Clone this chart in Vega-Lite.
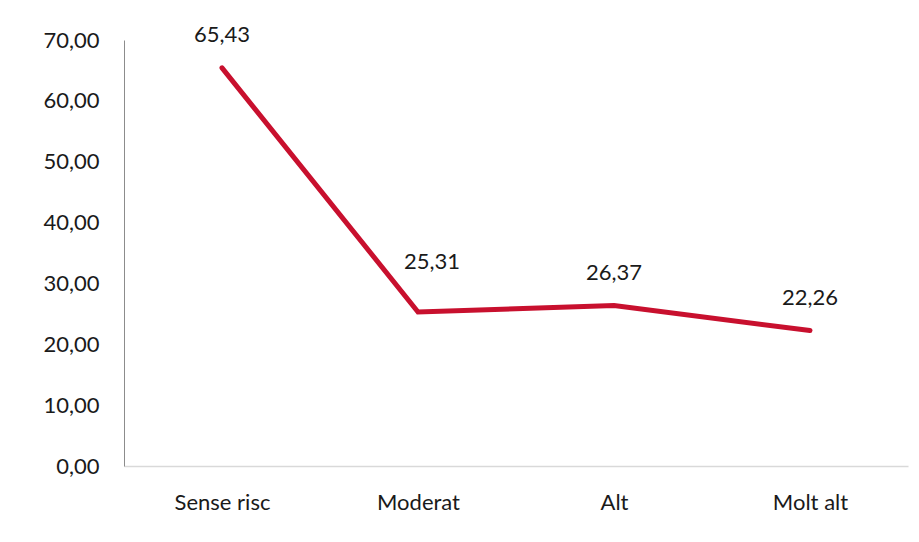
{
  "$schema": "https://vega.github.io/schema/vega-lite/v6.json",
  "width": 784,
  "height": 426,
  "autosize": {"type": "none"},
  "padding": {"left": 124, "top": 40, "right": 11, "bottom": 76},
  "background": "white",
  "config": {
    "locale": {"number": {"decimal": ",", "thousands": ".", "grouping": [3], "currency": ["", " €"]}},
    "view": {"stroke": null},
    "font": "Lato"
  },
  "data": {
    "values": [
      {"categoria": "Sense risc", "valor": 65.43},
      {"categoria": "Moderat", "valor": 25.31},
      {"categoria": "Alt", "valor": 26.37},
      {"categoria": "Molt alt", "valor": 22.26}
    ]
  },
  "encoding": {
    "x": {
      "field": "categoria",
      "type": "nominal",
      "sort": null,
      "scale": {"type": "point", "padding": 0.5},
      "axis": {
        "title": null,
        "labelAngle": 0,
        "labelFontSize": 22,
        "labelFontWeight": 400,
        "labelColor": "#1a1a1a",
        "labelFont": "Lato",
        "labelPadding": 26,
        "ticks": false,
        "domainColor": "#d9d9d9",
        "domainWidth": 1.5
      }
    },
    "y": {
      "field": "valor",
      "type": "quantitative",
      "scale": {"domain": [0, 70], "nice": false},
      "axis": {
        "title": null,
        "values": [0, 10, 20, 30, 40, 50, 60, 70],
        "format": ".2f",
        "grid": false,
        "ticks": false,
        "labelFontSize": 22,
        "labelFontWeight": 400,
        "labelColor": "#1a1a1a",
        "labelFont": "Lato",
        "labelPadding": 25,
        "domainColor": "#8c8c8c",
        "domainWidth": 1
      }
    }
  },
  "layer": [
    {
      "mark": {"type": "line", "color": "#C8102E", "strokeWidth": 5, "strokeCap": "round", "strokeJoin": "miter"}
    },
    {
      "transform": [{"filter": "datum.categoria !== 'Moderat'"}],
      "mark": {"type": "text", "dy": -33, "fontSize": 22, "fontWeight": 400, "color": "#1a1a1a", "font": "Lato", "baseline": "middle"},
      "encoding": {"text": {"field": "valor", "type": "quantitative", "format": ".2f"}}
    },
    {
      "transform": [{"filter": "datum.categoria === 'Moderat'"}],
      "mark": {"type": "text", "dy": -50, "dx": 14, "fontSize": 22, "fontWeight": 400, "color": "#1a1a1a", "font": "Lato", "baseline": "middle"},
      "encoding": {"text": {"field": "valor", "type": "quantitative", "format": ".2f"}}
    }
  ]
}
